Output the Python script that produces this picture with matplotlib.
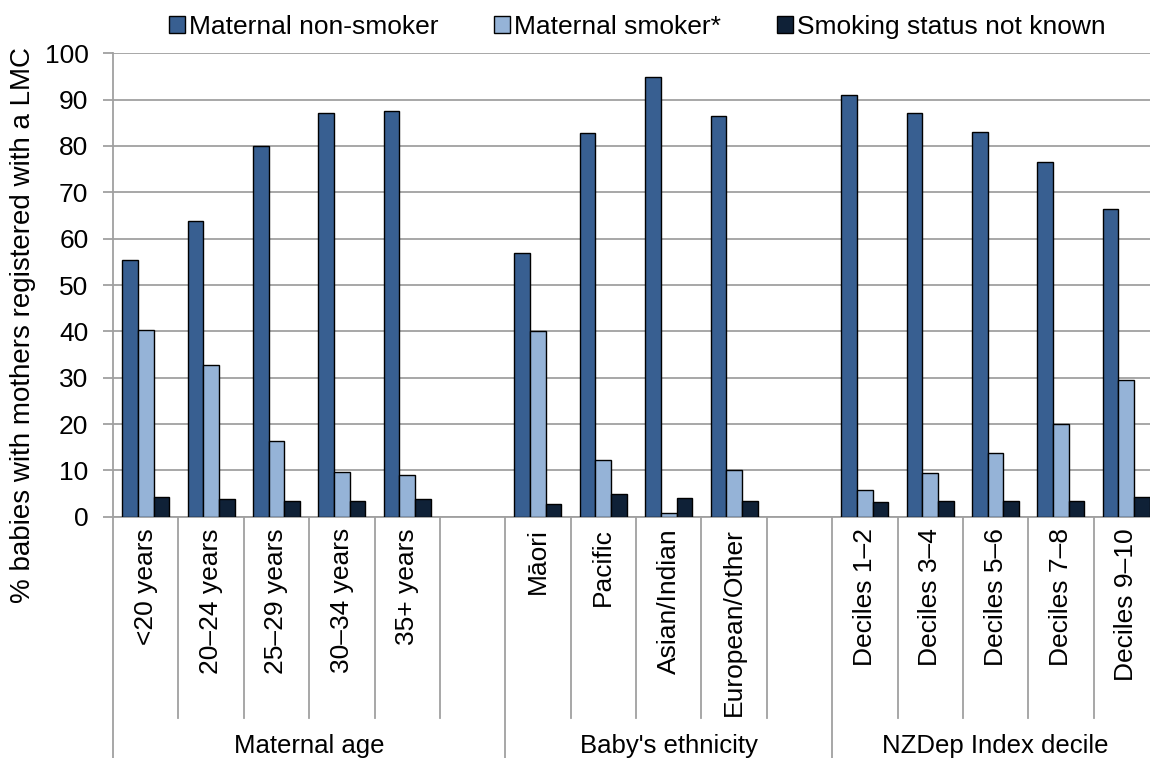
import matplotlib
matplotlib.use("Agg")
import matplotlib.pyplot as plt
from matplotlib.patches import Patch
import matplotlib.transforms as mtransforms

plt.rcParams['font.family'] = ['Liberation Sans', 'DejaVu Sans']

series_names = ["Maternal non-smoker", "Maternal smoker*", "Smoking status not known"]
colors = ["#385F91", "#95B3D7", "#0F2137"]

group_names = ["Maternal age", "Baby's ethnicity", "NZDep Index decile"]
age_labels = ["<20 years", "20\u201324 years", "25\u201329 years", "30\u201334 years", "35+ years"]
eth_labels = ["M\u0101ori", "Pacific", "Asian/Indian", "European/Other"]
dep_labels = ["Deciles 1\u20132", "Deciles 3\u20134", "Deciles 5\u20136", "Deciles 7\u20138", "Deciles 9\u201310"]

age_nonsmoker = [55.5, 63.8, 80.0, 87.2, 87.5]
age_smoker = [40.3, 32.7, 16.4, 9.6, 8.9]
age_unknown = [4.2, 3.8, 3.4, 3.4, 3.8]

eth_nonsmoker = [56.8, 82.8, 94.8, 86.5]
eth_smoker = [40.1, 12.3, 0.9, 10.0]
eth_unknown = [2.7, 4.8, 4.1, 3.4]

dep_nonsmoker = [91.0, 87.2, 83.1, 76.5, 66.5]
dep_smoker = [5.8, 9.5, 13.7, 20.0, 29.6]
dep_unknown = [3.1, 3.4, 3.4, 3.4, 4.2]

groups = [
    (age_labels, [age_nonsmoker, age_smoker, age_unknown]),
    (eth_labels, [eth_nonsmoker, eth_smoker, eth_unknown]),
    (dep_labels, [dep_nonsmoker, dep_smoker, dep_unknown]),
]

fig = plt.figure(figsize=(11.5, 7.58), dpi=100)
W, H = 1150, 758
left_px, right_px, top_px, bot_px = 113, 1159, 53.3, 516.7
ax = fig.add_axes([left_px / W, 1 - bot_px / H, (right_px - left_px) / W, (bot_px - top_px) / H])

grid_col = "#A0A0A0"
bw = 0.24
offsets = [-bw, 0, bw]

positions = []
labels = []
group_spans = []
slot = 0
for gi, (labs, vals) in enumerate(groups):
    start = slot
    xs = list(range(slot, slot + len(labs)))
    for si in range(3):
        ax.bar([x + offsets[si] for x in xs], vals[si], width=bw, color=colors[si],
               edgecolor="black", linewidth=1.0, zorder=3)
    positions += xs
    labels += labs
    slot += len(labs)
    if gi < len(groups) - 1:
        slot += 1  # blank slot
    group_spans.append((start - 0.5, slot - 0.5))
total_slots = slot

ax.set_xlim(-0.5, total_slots - 0.5)
ax.set_ylim(0, 100)
ax.set_yticks(range(0, 101, 10))
ax.yaxis.grid(True, color=grid_col, linewidth=1.3, zorder=0)
ax.set_axisbelow(True)
for s in ["top", "right"]:
    ax.spines[s].set_visible(False)
ax.spines["left"].set_color(grid_col)
ax.spines["left"].set_linewidth(1.3)
ax.spines["bottom"].set_color(grid_col)
ax.spines["bottom"].set_linewidth(1.3)
ax.tick_params(axis="y", colors=grid_col, length=7.2, width=1.3, labelsize=19,
               labelcolor="black", pad=10.5)
ax.set_xticks([])

fig.text(23 / W, 1 - 325 / H, "% babies with mothers registered with a LMC",
         rotation=90, ha="center", va="center", fontsize=20)

trans = mtransforms.blended_transform_factory(ax.transData, ax.transAxes)
axh = bot_px - top_px
short_y = -(718 - bot_px) / axh
long_y = -(H + 5 - bot_px) / axh

group_bounds = [-0.5] + [g[1] for g in group_spans[:-1]]
for b in [i - 0.5 for i in range(total_slots + 1)]:
    yb = long_y if any(abs(b - gb) < 1e-6 for gb in group_bounds) else short_y
    ax.plot([b, b], [0, yb], color=grid_col, linewidth=1.3, transform=trans, clip_on=False)

for x, lab in zip(positions, labels):
    ax.text(x, -(528 - bot_px) / axh, lab, rotation=90, ha="center", va="top",
            fontsize=19, transform=trans)

for (a, b), name in zip(group_spans, group_names):
    ax.text((a + b) / 2, -(753 - bot_px) / axh, name, ha="center", va="baseline",
            fontsize=18.5, transform=trans)

handles = [Patch(facecolor=c, edgecolor="black", linewidth=1.0) for c in colors]
fig.legend(handles, series_names, loc="center", bbox_to_anchor=(637 / W, 1 - 27 / H),
           ncol=3, frameon=False, fontsize=19, handlelength=0.62, handleheight=0.62,
           handletextpad=0.15, columnspacing=2.1, borderpad=0, borderaxespad=0)

fig.savefig("out.png", dpi=100)
